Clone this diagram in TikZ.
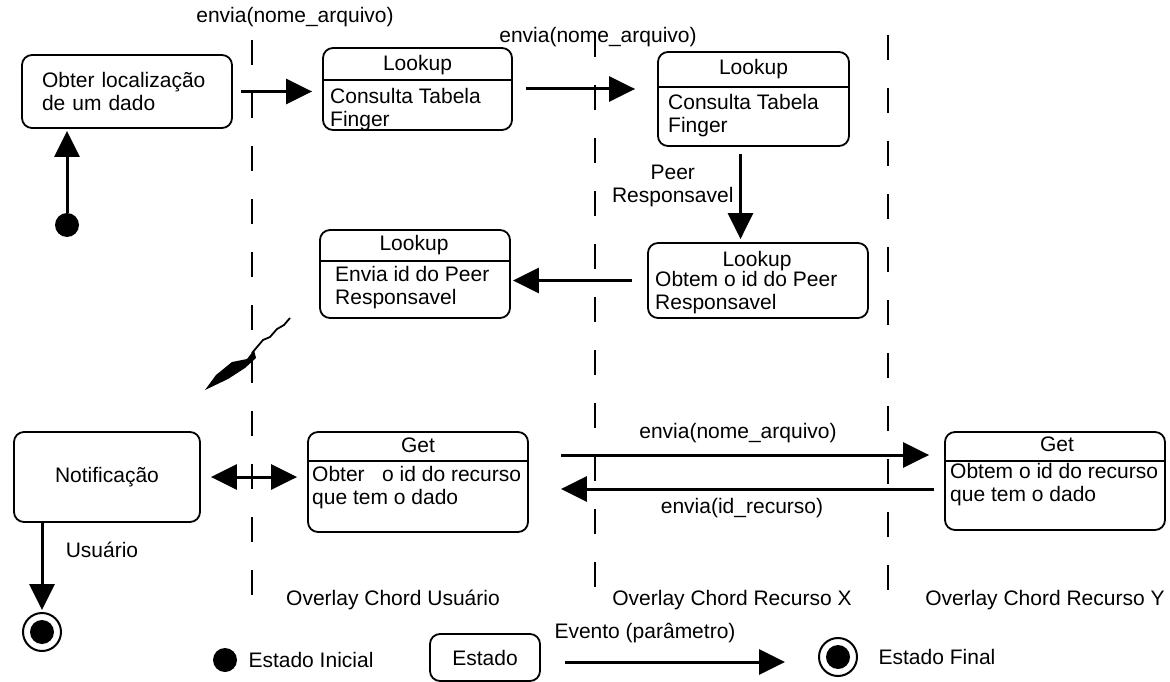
\documentclass[tikz,border=0pt]{standalone}
\usepackage{fontspec}
\setmainfont{Liberation Sans}
\usetikzlibrary{arrows.meta}

\begin{document}
\begin{tikzpicture}[x=1pt,y=-1pt,
                        every node/.style={font=\fontsize{21}{23}\selectfont},
                        estado/.style={draw,rounded corners=10pt,line width=1.8pt},
                        corpo/.style={align=left,anchor=west,inner sep=0pt},
                        seta/.style={line width=3pt,-{Triangle[length=26pt,width=25pt]}},
                        raia/.style={line width=2pt,dash pattern=on 25pt off 28pt},
                        inicial/.style={circle,fill,inner sep=0pt,minimum size=24pt},
                        final/.style={circle,draw,line width=2pt,inner sep=0pt,minimum size=38pt,
                          path picture={\fill (path picture bounding box.center) circle (12pt);}}]
                        \useasboundingbox (0,0) rectangle (1170,682);
                        % raias
                        \draw[raia] (252,40) -- (252,605);
                        \draw[raia] (595,32) -- (595,595);
                        \draw[raia] (888,35) -- (888,595);
                        \node at (295,17) {envia(nome\_arquivo)};
                        \node at (598,37) {envia(nome\_arquivo)};
                        % estados
                        \node[estado,minimum width=210pt,minimum height=73pt,text width=170pt,align=left] (obter) at (127,91.5) {Obter localização\\de um dado};
                        \node[inicial] (ini) at (67,225) {};
                        \node[estado,minimum width=189pt,minimum height=82pt] (look1) at (417.5,89) {};
                        \node at (417.5,65) {Lookup};
                        \draw[line width=1.5pt] ([yshift=-33pt]look1.north west) -- ([yshift=-33pt]look1.north east);
                        \node[corpo] at (330,110) {Consulta Tabela\\Finger};
                        \node[estado,minimum width=191pt,minimum height=94pt] (look2) at (753.5,99) {};
                        \node at (753.5,69) {Lookup};
                        \draw[line width=1.5pt] ([yshift=-36pt]look2.north west) -- ([yshift=-36pt]look2.north east);
                        \node[corpo] at (668,116) {Consulta Tabela\\Finger};
                        \node[estado,minimum width=220pt,minimum height=75pt] (look3) at (758,280.5) {};
                        \node at (757,261) {Lookup};
                        \node[corpo] at (655,293) {Obtem o id do Peer\\Responsavel};
                        \node[estado,minimum width=190pt,minimum height=88pt] (look4) at (415,274) {};
                        \node at (414,245) {Lookup};
                        \draw[line width=1.5pt] ([yshift=-32pt]look4.north west) -- ([yshift=-32pt]look4.north east);
                        \node[corpo] at (335,288) {Envia id do Peer\\Responsavel};
                        \node[estado,minimum width=186pt,minimum height=90pt] (notif) at (107,477) {Notificação};
                        \node[estado,minimum width=220pt,minimum height=100pt] (get1) at (418,482) {};
                        \node at (418,445) {Get};
                        \draw[line width=1.5pt] ([yshift=-30pt]get1.north west) -- ([yshift=-30pt]get1.north east);
                        \node[corpo] at (312,488) {Obter~~~o id do recurso\\que tem o dado};
                        \node[estado,minimum width=220pt,minimum height=98pt] (get2) at (1055,481) {};
                        \node at (1057,444) {Get};
                        \draw[line width=1.5pt] ([yshift=-30pt]get2.north west) -- ([yshift=-30pt]get2.north east);
                        \node[corpo] at (950,485) {Obtem o id do recurso\\que tem o dado};
                        \node[final] (fim) at (42,632) {};
                        % transicoes
                        \draw[seta,shorten >=2pt] (ini) -- (ini |- obter.south);
                        \draw[seta,shorten <=8pt,shorten >=10pt] (obter.east) -- (obter.east -| look1.west);
                        \draw[seta,shorten <=13pt,shorten >=22pt] (look1.east) -- (look1.east -| look2.west);
                        \draw[seta,shorten <=7pt,shorten >=3pt] ([xshift=-13pt]look2.south) -- ([xshift=-13pt]look2.south |- look3.north);
                        \node[align=center,anchor=east] at (737,186) {Peer\\Responsavel};
                        \draw[seta,shorten <=15pt,shorten >=2pt] (look3.west) -- (look3.west -| look4.east);
                        \draw[line width=3pt,{Triangle[length=26pt,width=25pt]}-{Triangle[length=26pt,width=25pt]},shorten <=10pt,shorten >=10pt] (notif.east) -- (notif.east -| get1.west);
                        \draw[seta,shorten <=32pt,shorten >=15pt] ([yshift=27pt]get1.east) -- ([yshift=27pt]get1.east -| get2.west);
                        \node at (738,433) {envia(nome\_arquivo)};
                        \draw[seta,shorten <=10pt,shorten >=32pt] ([yshift=-8pt]get2.west) -- ([yshift=-8pt]get2.west -| get1.east);
                        \node at (742,508) {envia(id\_recurso)};
                        \draw[seta,shorten >=2pt] (notif.south -| fim) -- (fim.north);
                        \node at (102,550) {Usuário};
                        % rabisco
                        \draw[line width=1.8pt] (290,318) -- (284,325) -- (277,329) -- (270,337) -- (263,340) -- (252,353);
                        \fill (254,350) -- (247,359) -- (232,362) -- (216,375) -- (205,390) -- (228,379) -- (245,368) -- (256,358) -- cycle;
                        % raias
                        \node at (393,600) {Overlay Chord Usuário};
                        \node at (732,600) {Overlay Chord Recurso X};
                        \node at (1045,600) {Overlay Chord Recurso Y};
                        % legenda
                        \node[inicial] (legini) at (225,660) {};
                        \node at (311,660) {Estado Inicial};
                        \node[estado,minimum width=110pt,minimum height=47pt] (legest) at (485,657.5) {Estado};
                        \node at (645,633) {Evento (parâmetro)};
                        \coordinate (evA) at (565,662);
                        \coordinate (evB) at (785,662);
                        \draw[seta] (evA) -- (evB);
                        \node[final] (legfim) at (838,657) {};
                        \node at (937,657) {Estado Final};
                \end{tikzpicture}
\end{document}
